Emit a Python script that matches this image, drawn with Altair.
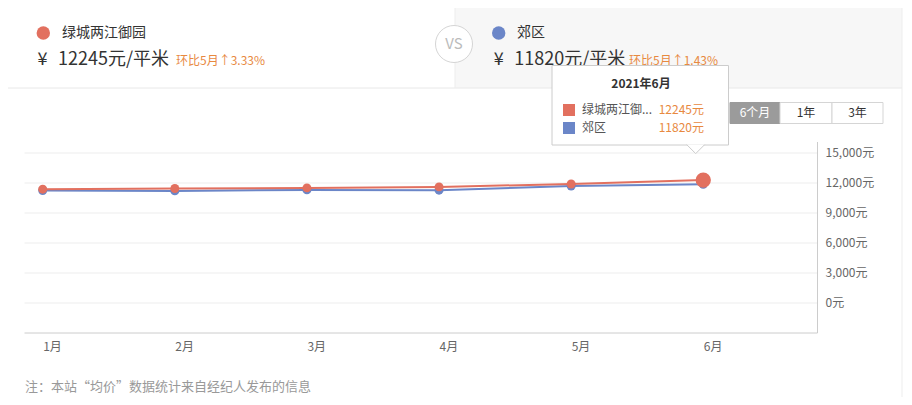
import altair as alt
import pandas as pd

# ---------------- data ----------------
months = [1, 2, 3, 4, 5, 6]
series_a = "绿城两江御园"
series_b = "郊区"
values_a = [11330, 11400, 11460, 11560, 11850, 12245]
values_b = [11200, 11160, 11260, 11230, 11650, 11820]
y_ticks = [0, 3000, 6000, 9000, 12000, 15000]

df = pd.DataFrame({
    "month": months * 2,
    "series": [series_a] * len(months) + [series_b] * len(months),
    "value": values_a + values_b,
})

RED = "#e2705f"
BLUE = "#6b86c8"
ORANGE = "#e8893f"
FONT = "Noto Sans CJK SC"

# plot origin in page pixels (page has 8px margin)
OX, OY = 24, 141.5
W, H = 793, 191


def px(x):
    return x - OX


def py(y):
    return y - OY


def deco():
    return alt.Chart(pd.DataFrame({"k": [0]}))


def text(s, x, y, size=12, color="#333", align="left", weight="normal"):
    return deco().mark_text(
        text=s, align=align, baseline="middle", font=FONT,
        fontSize=size, color=color, fontWeight=weight
    ).encode(x=alt.value(px(x)), y=alt.value(py(y)))


def rect(x1, x2, y1, y2, fill, stroke=""):
    kw = dict(fill=fill)
    if stroke:
        kw["stroke"] = stroke
        kw["strokeWidth"] = 1
    return deco().mark_rect(**kw).encode(
        x=alt.value(px(x1)), x2=alt.value(px(x2)),
        y=alt.value(py(y1)), y2=alt.value(py(y2)))


def hline(x1, x2, y, color="#e8e8e8"):
    return deco().mark_rule(color=color, strokeWidth=1).encode(
        x=alt.value(px(x1)), x2=alt.value(px(x2)), y=alt.value(py(y)))


def vline(x, y1, y2, color="#e8e8e8"):
    return deco().mark_rule(color=color, strokeWidth=1).encode(
        x=alt.value(px(x)), y=alt.value(py(y1)), y2=alt.value(py(y2)))


def dot(x, y, size, color, stroke=""):
    kw = dict(size=size, color=color, opacity=1)
    if stroke:
        kw["stroke"] = stroke
        kw["strokeWidth"] = 1
    return deco().mark_circle(**kw).encode(x=alt.value(px(x)), y=alt.value(py(y)))


# ---------------- chart ----------------
X = alt.X("month:Q",
          scale=alt.Scale(domain=[0.8584, 6.861], nice=False, zero=False),
          axis=alt.Axis(values=months, labelExpr="datum.value + '月'",
                        labelAlign="left", labelBaseline="top", labelPadding=9,
                        ticks=False, grid=False, domainColor="#cccccc",
                        labelColor="#666666", labelFontSize=12, labelFont=FONT,
                        labelFlush=False, title=None))
Y = alt.Y("value:Q",
          scale=alt.Scale(domain=[-3000, 16100], nice=False, zero=False),
          axis=alt.Axis(orient="right", values=y_ticks,
                        labelExpr="format(datum.value, ',') + '元'",
                        ticks=False, gridColor="#ededed", domainColor="#cccccc",
                        labelPadding=8, labelColor="#666666", labelFontSize=12,
                        labelFont=FONT, title=None))
C = alt.Color("series:N", scale=alt.Scale(domain=[series_a, series_b], range=[RED, BLUE]),
              legend=None)

base = alt.Chart(df).encode(x=X, y=Y, color=C)
only_b = base.transform_filter(alt.datum.series == series_b)
only_a = base.transform_filter(alt.datum.series == series_a)

line_b = only_b.mark_line(strokeWidth=2)
pts_b = only_b.mark_circle(size=80, opacity=1)
line_a = only_a.mark_line(strokeWidth=2)
pts_a = only_a.mark_circle(size=80, opacity=1)
big_a = base.transform_filter(
    (alt.datum.series == series_a) & (alt.datum.month == 6)
).mark_circle(size=235, opacity=1)

# ---------------- header ----------------
header = [
    rect(455, 902, 3, 88, "#f7f7f7"),
    hline(8, 902, 88),
    vline(455, 8, 88, "#ededed"),
    vline(902, 8, 397, "#ededed"),
    dot(43.3, 33, 180, RED),
    text(series_a, 62, 33, 14, "#333333"),
    text("¥", 37.5, 60, 18, "#333333"),
    text("12245元/平米", 58, 60, 18, "#333333"),
    text("环比5月↑3.33%", 176, 61, 12, ORANGE),
    dot(454, 44, 37 * 37, "white", "#d5d5d5"),
    text("VS", 454, 44, 15, "#bbbbbb", align="center"),
    dot(498.7, 33, 180, BLUE),
    text(series_b, 517, 33, 14, "#333333"),
    text("¥", 493.7, 60, 18, "#333333"),
    text("11820元/平米", 514.3, 60, 18, "#333333"),
    text("环比5月↑1.43%", 629, 61, 12, ORANGE),
]

# ---------------- buttons ----------------
buttons = [
    rect(730, 780, 102.5, 123.5, "#9b9b9b", "#9b9b9b"),
    rect(780, 832, 102.5, 123.5, "white", "#d5d5d5"),
    rect(832, 883, 102.5, 123.5, "white", "#d5d5d5"),
    text("6个月", 755, 113, 12, "white", align="center"),
    text("1年", 806, 113, 12, "#333333", align="center"),
    text("3年", 857.5, 113, 12, "#333333", align="center"),
]

# ---------------- tooltip ----------------
pointer = deco().mark_point(
    shape="M-1,0L0,1L1,0", size=324, filled=True, fill="white",
    stroke="#cccccc", strokeWidth=1, opacity=1
).encode(x=alt.value(px(695.7)), y=alt.value(py(144.6)))

tooltip = [
    rect(552, 728.5, 65.5, 145, "white", "#cccccc"),
    pointer,
    text("2021年6月", 641, 84, 12, "#333333", align="center", weight="bold"),
    deco().mark_square(size=144, color=RED, opacity=1).encode(
        x=alt.value(px(569)), y=alt.value(py(110))),
    deco().mark_square(size=144, color=BLUE, opacity=1).encode(
        x=alt.value(px(569)), y=alt.value(py(128))),
    text("绿城两江御...", 582, 110, 12, "#555555"),
    text("12245元", 658.7, 110, 12, ORANGE),
    text(series_b, 582, 128, 12, "#555555"),
    text("11820元", 658.7, 128, 12, ORANGE),
]

footer = [text("注：本站“均价”数据统计来自经纪人发布的信息", 25, 386.7, 13, "#999999")]

layers = header + [line_b, pts_b, line_a, pts_a, big_a] + buttons + tooltip + footer

chart = alt.layer(*layers).properties(
    width=W, height=H,
    autosize=alt.AutoSizeParams(type="none"),
    padding={"left": OX - 8, "top": OY - 8, "right": 896 - (OX - 8) - W,
             "bottom": 389 - (OY - 8) - H},
    background="white",
).configure_view(stroke=None)

chart.save("out.html", embed_options={"renderer": "svg", "actions": False})
